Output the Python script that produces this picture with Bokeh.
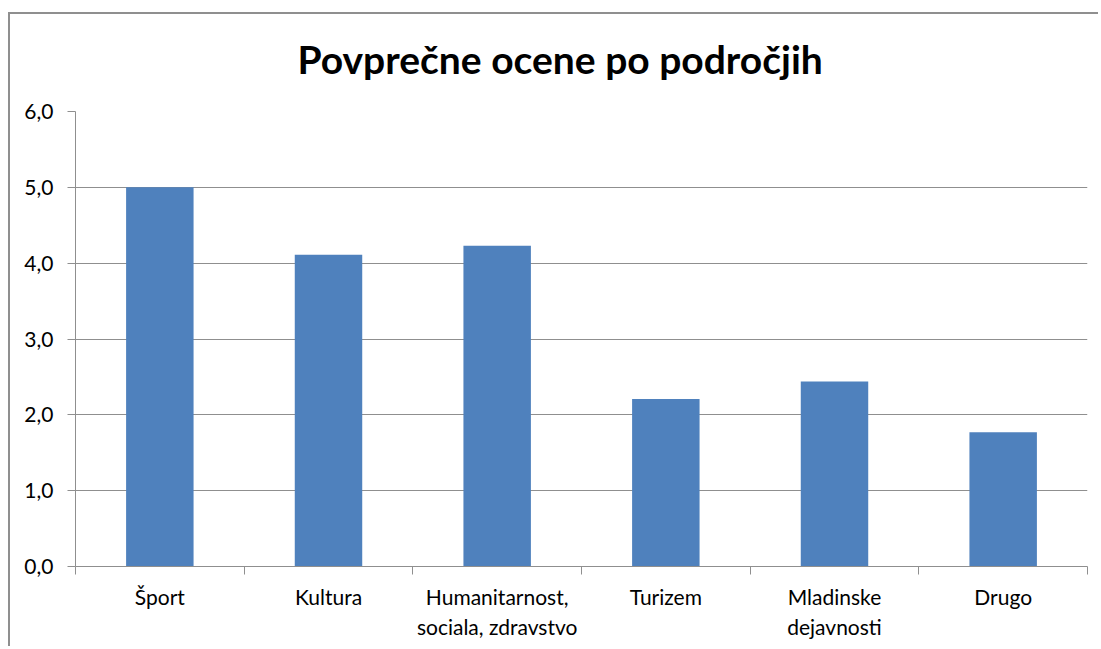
from bokeh.plotting import figure
from bokeh.models import FixedTicker, Range1d, Title
from bokeh.embed import file_html
from bokeh.resources import INLINE

categories = ["Šport", "Kultura", "Humanitarnost,\nsociala, zdravstvo", "Turizem", "Mladinske\ndejavnosti", "Drugo"]
values = [5.0, 4.11, 4.23, 2.21, 2.44, 1.77]
y_ticks = [0, 1, 2, 3, 4, 5, 6]
y_tick_labels = ["0,0", "1,0", "2,0", "3,0", "4,0", "5,0", "6,0"]
title_text = "Povprečne ocene po področjih"

n = len(categories)
x = [i + 0.5 for i in range(n)]

FONT = "Lato"
GRAY = "#8f8f8f"

p = figure(width=1090, height=634, x_range=Range1d(0, n), y_range=Range1d(y_ticks[0], y_ticks[-1]),
           output_backend="svg", toolbar_location=None, tools="",
           min_border_left=65, min_border_right=13, min_border_top=97, min_border_bottom=82)
p.toolbar.logo = None
p.toolbar.autohide = True
p.styles = {"margin-left": "10px", "margin-top": "14px", "box-shadow": f"-2px -2px 0 0 {GRAY}"}

p.vbar(x=x, top=values, width=0.4, fill_color="#4F81BD", line_color=None)

# spacer between the frame and the title, then the title itself
p.title.text = ""
p.add_layout(Title(text=" ", text_font=FONT, text_font_size="10px", standoff=16), "above")
p.add_layout(Title(text=title_text, align="left", offset=222, standoff=0,
                   text_font=FONT, text_font_size="39px", text_font_style="bold",
                   text_color="#000000"), "above")

p.outline_line_color = None
p.background_fill_color = "white"
p.border_fill_color = "white"

p.xgrid.visible = False
p.ygrid.ticker = FixedTicker(ticks=y_ticks)
p.ygrid.grid_line_color = GRAY
p.ygrid.grid_line_width = 1

p.yaxis.ticker = FixedTicker(ticks=y_ticks)
p.yaxis.major_label_overrides = dict(zip(y_ticks, y_tick_labels))
p.yaxis.axis_line_color = GRAY
p.yaxis.major_tick_line_color = GRAY
p.yaxis.major_tick_out = 8
p.yaxis.major_tick_in = 0
p.yaxis.minor_tick_line_color = None
p.yaxis.major_label_text_font = FONT
p.yaxis.major_label_text_font_size = "21px"
p.yaxis.major_label_text_color = "#000000"
p.yaxis.major_label_standoff = 14

p.xaxis.ticker = FixedTicker(ticks=x, minor_ticks=list(range(n + 1)))
p.xaxis.major_label_overrides = dict(zip(x, categories))
p.xaxis.axis_line_color = GRAY
p.xaxis.major_tick_out = 0
p.xaxis.major_tick_in = 0
p.xaxis.minor_tick_out = 8
p.xaxis.minor_tick_in = 0
p.xaxis.minor_tick_line_color = GRAY
p.xaxis.major_label_text_font = FONT
p.xaxis.major_label_text_font_size = "21px"
p.xaxis.major_label_text_color = "#000000"
p.xaxis.major_label_standoff = 9

open("out.html", "w").write(file_html(p, INLINE))
